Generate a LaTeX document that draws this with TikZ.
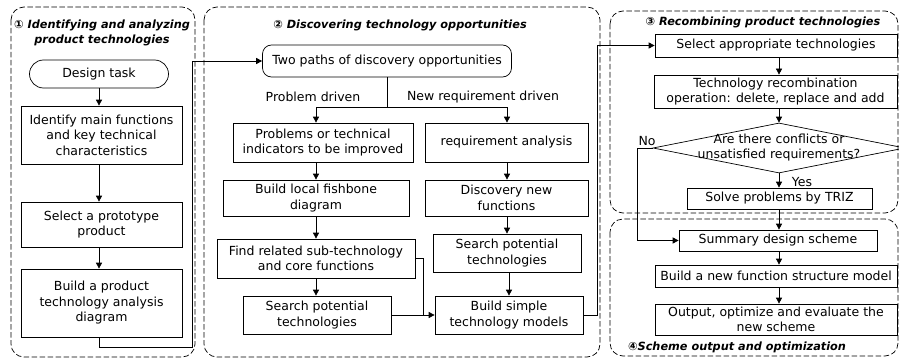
\documentclass[tikz,border=0pt]{standalone}
\usepackage{fontspec}
\setmainfont{DejaVu Sans}
\usetikzlibrary{arrows.meta,shapes.geometric}
\begin{document}
\begin{tikzpicture}[x=1pt,y=-1pt,
  font=\fontsize{12.5}{15.5}\selectfont,
  box/.style={draw, line width=0.7pt, align=center, inner sep=1pt, rectangle},
  frame/.style={draw, dash pattern=on 5.5pt off 2.5pt, line width=0.7pt, rounded corners=13pt},
  ttl/.style={font=\fontsize{11.3}{14.5}\selectfont\bfseries\itshape, align=center},
  lbl/.style={inner sep=1pt},
  arr/.style={-{Triangle[length=6pt,width=6pt]}, line width=0.7pt},
  ln/.style={line width=0.7pt}]
\useasboundingbox (0,0) rectangle (899,361);

% ---- dashed stage frames ----
\draw[frame] (11,7) rectangle (195,357);
\draw[frame] (204,7) rectangle (600,357);
\draw[frame] (610,11) rectangle (898,213);
\draw[frame] (610,219) rectangle (898,356);

% ---- stage titles ----
\node[ttl] (t1) at (102,33) {① Identifying and analyzing\\product technologies};
\node[ttl] (t2) at (400,25) {② Discovering technology opportunities};
\node[ttl] (t3) at (763,22) {③ Recombining product technologies};
\node[ttl] (t4) at (737,347) {④Scheme output and optimization};

% ---- stage 1 ----
\node[box, rounded corners=14pt, minimum width=139, minimum height=28] (task) at (99,74) {Design task};
\node[box, minimum width=161, minimum height=58] (idf) at (101.5,135) {Identify main functions\\and key technical\\characteristics};
\node[box, minimum width=161, minimum height=45] (sel) at (101.5,224.5) {Select a prototype\\product};
\node[box, minimum width=161, minimum height=68] (bld) at (101.5,303) {Build a product\\technology analysis\\diagram};

\draw[arr] (task.south) -- (task.south |- idf.north);
\draw[arr] (task.south |- idf.south) -- (task.south |- sel.north);
\draw[arr] (task.south |- sel.south) -- (task.south |- bld.north);

% ---- stage 2 ----
\node[box, rounded corners=9pt, minimum width=249, minimum height=32] (two) at (387,61) {Two paths of discovery opportunities};
\node[box, minimum width=180, minimum height=39] (prob) at (323,142.5) {Problems or technical\\indicators to be improved};
\node[box, minimum width=163, minimum height=39] (req) at (506.5,142.5) {requirement analysis};
\node[box, minimum width=186, minimum height=36] (fish) at (316,198) {Build local fishbone\\diagram};
\node[box, minimum width=163, minimum height=36] (disc) at (506.5,198) {Discovery new\\functions};
\node[box, minimum width=198, minimum height=39] (find) at (316,258.5) {Find related sub-technology\\and core functions};
\node[box, minimum width=148, minimum height=38] (sp2) at (507,253) {Search potential\\technologies};
\node[box, minimum width=148, minimum height=38] (sp1) at (317,315) {Search potential\\technologies};
\node[box, minimum width=148, minimum height=38] (simple) at (509,315) {Build simple\\technology models};

\coordinate (split) at (387,107);
\node[lbl] (pd) at (313,97) {Problem driven};
\node[lbl] (nd) at (483,97) {New requirement driven};
\draw[ln] (two.south) -- (split);
\draw[arr] (split) -- (316,107) -- (316,0 |- prob.north);
\draw[arr] (split) -- (507,107) -- (507,0 |- req.north);
\draw[arr] (316,0 |- prob.south) -- (316,0 |- fish.north);
\draw[arr] (316,0 |- fish.south) -- (316,0 |- find.north);
\draw[arr] (316,0 |- find.south) -- (316,0 |- sp1.north);
\draw[arr] (507,0 |- req.south) -- (507,0 |- disc.north);
\draw[arr] (507,0 |- disc.south) -- (507,0 |- sp2.north);
\draw[arr] (509,0 |- sp2.south) -- (509,0 |- simple.north);
\draw[arr] (sp1.east) -- (simple.west);
\draw[ln] (find.east) -- (423,258.5) -- (423,315);

% stage 1 -> stage 2
\coordinate (j1) at (99,347);
\draw[arr] (task.south |- bld.south) -- (j1) -- (192,347) -- (192,61) -- (two.west);

% ---- stage 3 ----
\node[box, minimum width=242, minimum height=23] (sel3) at (776,45.5) {Select appropriate technologies};
\node[box, minimum width=243, minimum height=33] (rec) at (775.5,91.5) {Technology recombination\\operation: delete, replace and add};
\node[draw, line width=0.7pt, diamond, minimum width=252, minimum height=50, inner sep=0pt] (dia) at (779,148) {};
\node[align=center, font=\fontsize{12.5}{15}\selectfont] (diat) at (779,148) {Are there conflicts or\\unsatisfied requirements?};
\node[box, minimum width=185, minimum height=21] (solve) at (779.5,198.5) {Solve problems by TRIZ};
\node[lbl] (yes) at (802,182) {Yes};
\node[lbl] (no) at (647,141) {No};

% stage 2 -> stage 3
\draw[arr] (simple.east) -- (597,315) -- (597,45.5) -- (sel3.west);

\draw[arr] (779,0 |- sel3.south) -- (779,0 |- rec.north);
\draw[arr] (779,0 |- rec.south) -- (dia.north);
\draw[arr] (dia.south) -- (779,0 |- solve.north);

% ---- stage 4 ----
\node[box, minimum width=198, minimum height=21] (summ) at (778,240.5) {Summary design scheme};
\node[box, minimum width=242, minimum height=22] (nfs) at (776,276) {Build a new function structure model};
\node[box, minimum width=242, minimum height=31] (out) at (776,319.5) {Output, optimize and evaluate the\\new scheme};

\draw[arr] (dia.west) -- (637,148) -- (637,240.5) -- (summ.west);
\draw[arr] (779,0 |- solve.south) -- (779,0 |- summ.north);
\draw[arr] (779,0 |- summ.south) -- (779,0 |- nfs.north);
\draw[arr] (779,0 |- nfs.south) -- (779,0 |- out.north);
\end{tikzpicture}
\end{document}
